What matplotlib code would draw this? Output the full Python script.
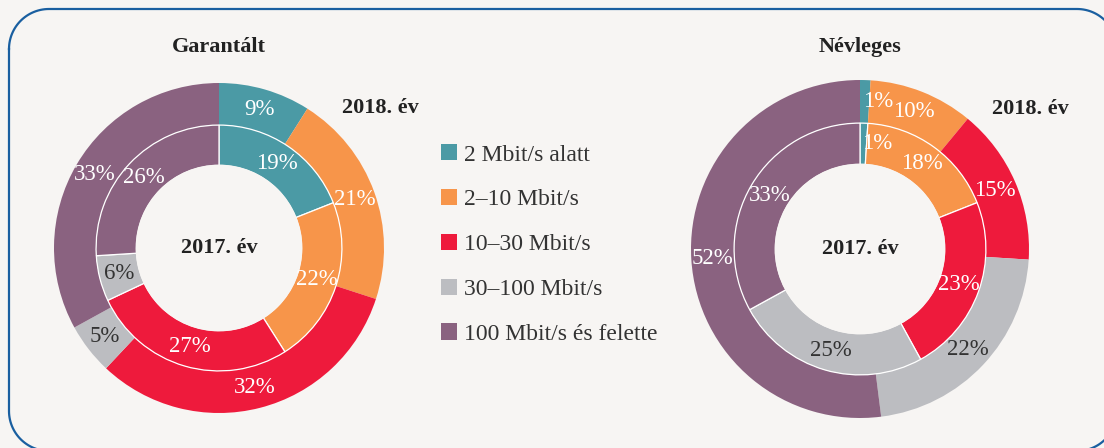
import numpy as np
import matplotlib
matplotlib.use('Agg')
import matplotlib.pyplot as plt
from matplotlib.patches import Patch, Circle

# categories and shares (%)
categories = ['2 Mbit/s alatt', '2–10 Mbit/s', '10–30 Mbit/s', '30–100 Mbit/s', '100 Mbit/s és felette']
colors = ['#4B9AA5', '#F7954A', '#EE1A3C', '#BCBDC1', '#8A6280']
label_colors = ['white', 'white', 'white', '#333333', 'white']

garantalt_2018 = [9, 21, 32, 5, 33]
garantalt_2017 = [19, 22, 27, 6, 26]
nevleges_2018 = [1, 10, 15, 22, 52]
nevleges_2017 = [1, 18, 23, 25, 33]

titles = ['Garantált', 'Névleges']
outer_year = '2018. év'
inner_year = '2017. év'

BG = '#F7F5F3'
DARK = '#222222'
plt.rcParams['font.family'] = ['Liberation Serif', 'DejaVu Serif']

W, H = 1104, 448
fig = plt.figure(figsize=(W / 100, H / 100), dpi=100)
fig.patch.set_facecolor(BG)

# rounded frame in pixel units (it runs past the right and bottom edges)
bg_ax = fig.add_axes([0, 0, 1, 1], zorder=-1)
bg_ax.set_xlim(0, W)
bg_ax.set_ylim(H, 0)
bg_ax.axis('off')
x0, x1, y0, y1, rr = 9, 1117, 9, 451, 40
t = np.linspace(0, np.pi / 2, 30)
fx = np.concatenate([x0 + rr - rr * np.cos(t), x1 - rr + rr * np.sin(t),
                     x1 - rr + rr * np.cos(t), x0 + rr - rr * np.sin(t), [x0]])
fy = np.concatenate([y0 + rr - rr * np.sin(t), y0 + rr - rr * np.cos(t),
                     y1 - rr + rr * np.sin(t), y1 - rr + rr * np.cos(t), [y0 + rr]])
bg_ax.plot(fx, fy, color='#1A5FA0', linewidth=1.6, clip_on=False)

R_RING = 0.745
R_HOLE = 0.5
LIM = 1.06


def donut(cx, cy, rad, outer, inner, title):
    half = rad * LIM
    ax = fig.add_axes([(cx - half) / W, (H - cy - half) / H, 2 * half / W, 2 * half / H])

    ax.pie(outer, radius=1.0, colors=colors, startangle=90, counterclock=False,
           wedgeprops=dict(width=1 - R_RING, linewidth=0))
    ax.pie(inner, radius=R_RING, colors=colors, startangle=90, counterclock=False,
           wedgeprops=dict(width=R_RING - R_HOLE, edgecolor='white', linewidth=0.9))
    # hide the white edge along the hole
    ax.add_patch(Circle((0, 0), R_HOLE, facecolor=BG, edgecolor=BG, linewidth=1.3, zorder=3))
    ax.set_xlim(-LIM, LIM)
    ax.set_ylim(-LIM, LIM)
    ax.set_aspect('equal')
    ax.axis('off')

    for vals, rmid in ((outer, (1 + R_RING) / 2), (inner, (R_RING + R_HOLE) / 2)):
        start = 0.0
        for i, v in enumerate(vals):
            mid = start + v / 2
            start += v
            ang = np.deg2rad(90 - mid * 3.6)
            x, y = rmid * np.cos(ang), rmid * np.sin(ang)
            dx = 0.08 if v < 3 else 0
            ax.text(x + dx, y, f'{v}%', ha='center', va='center', fontsize=16.5,
                    color=label_colors[i], zorder=4)

    ax.text(0, 0, inner_year, ha='center', va='center', fontsize=16, fontweight='bold',
            color=DARK, zorder=4)
    fig.text(cx / W, 1 - 47 / H, title, ha='center', va='center', fontsize=16,
             fontweight='bold', color=DARK)


donut(219, 248, 165, garantalt_2018, garantalt_2017, titles[0])
donut(860, 249, 169, nevleges_2018, nevleges_2017, titles[1])

fig.text(380 / W, 1 - 108 / H, outer_year, ha='center', va='center', fontsize=16,
         fontweight='bold', color=DARK)
fig.text(1030 / W, 1 - 109 / H, outer_year, ha='center', va='center', fontsize=16,
         fontweight='bold', color=DARK)

handles = [Patch(facecolor=c, edgecolor='none') for c in colors]
fig.legend(handles, categories, loc='upper left', bbox_to_anchor=(420 / W, 1 - 123 / H),
           frameon=False, fontsize=17, handlelength=0.68, handleheight=0.68,
           handletextpad=0.3, labelspacing=0.99, labelcolor='#333333')

fig.savefig('out.png', dpi=100, facecolor=BG)
